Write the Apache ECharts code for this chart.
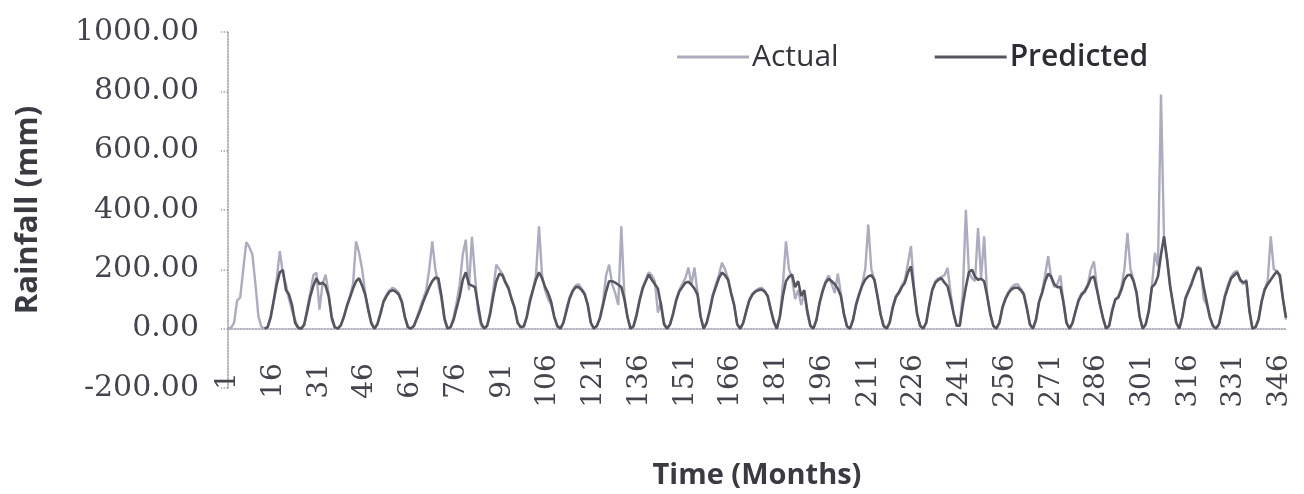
<!DOCTYPE html>
<html>
<head>
<meta charset="utf-8">
<title>Rainfall: actual vs predicted</title>
<script src="https://cdn.jsdelivr.net/npm/echarts@6/dist/echarts.min.js"></script>
<style>
  html, body { margin: 0; padding: 0; background: #ffffff; }
  #chart { width: 1304px; height: 494px; }
</style>
</head>
<body>
<div id="chart"></div>
<script>
// Monthly rainfall (mm), one row per year (Jan..Dec), 29 years = 348 months
const actual = [
  0, 3, 20, 95, 105, 200, 292, 275, 250, 150, 40, 5,
  0, 5, 35, 95, 170, 261, 185, 150, 100, 60, 30, 5,
  0, 10, 70, 120, 180, 189, 64, 150, 182, 120, 30, 5,
  0, 10, 40, 80, 110, 150, 294, 256, 200, 120, 60, 15,
  0, 15, 55, 95, 115, 130, 138, 132, 120, 95, 40, 5,
  0, 10, 40, 70, 100, 130, 200, 294, 200, 150, 100, 30,
  0, 5, 40, 90, 150, 250, 300, 130, 310, 180, 60, 10,
  0, 10, 60, 130, 216, 200, 185, 160, 140, 100, 70, 20,
  5, 5, 40, 100, 130, 180, 345, 180, 130, 100, 80, 40,
  5, 0, 20, 65, 105, 130, 145, 150, 135, 120, 80, 20,
  0, 10, 40, 90, 180, 216, 150, 120, 80, 345, 110, 40,
  0, 10, 50, 100, 140, 165, 190, 180, 160, 54, 90, 20,
  0, 15, 55, 100, 130, 150, 170, 206, 150, 206, 120, 40,
  0, 20, 65, 115, 150, 180, 222, 200, 170, 120, 80, 15,
  0, 20, 60, 100, 118, 128, 135, 138, 128, 110, 65, 20,
  0, 40, 150, 294, 200, 170, 100, 130, 80, 120, 50, 10,
  0, 30, 90, 130, 160, 180, 150, 120, 185, 120, 50, 8,
  0, 30, 85, 120, 150, 200, 351, 200, 165, 110, 50, 10,
  0, 20, 75, 110, 125, 145, 165, 220, 278, 140, 50, 10,
  0, 20, 80, 135, 160, 170, 175, 180, 205, 120, 50, 10,
  10, 120, 401, 190, 170, 160, 340, 170, 311, 110, 50, 10,
  0, 20, 75, 105, 125, 140, 148, 150, 135, 120, 70, 15,
  0, 30, 90, 125, 180, 244, 170, 140, 150, 180, 90, 20,
  0, 20, 60, 100, 120, 130, 150, 200, 227, 140, 80, 35,
  0, 10, 65, 100, 110, 140, 200, 323, 200, 165, 120, 40,
  0, 15, 60, 140, 256, 210, 789, 300, 233, 143, 80, 20,
  0, 40, 105, 130, 155, 185, 209, 205, 100, 80, 40, 10,
  0, 15, 65, 115, 150, 175, 190, 195, 160, 150, 165, 60,
  0, 5, 35, 95, 135, 160, 311, 200, 195, 170, 100, 30
];

// Model output; the first year has no prediction
const predicted = [
  null, null, null, null, null, null, null, null, null, null, null, null,
  0, 5, 40, 95, 150, 190, 198, 130, 115, 80, 20, 3,
  0, 15, 60, 110, 145, 170, 150, 155, 145, 110, 40, 5,
  0, 12, 40, 75, 105, 135, 160, 170, 145, 115, 65, 20,
  0, 15, 50, 90, 110, 125, 130, 125, 115, 90, 40, 5,
  0, 10, 35, 60, 90, 115, 140, 160, 172, 170, 110, 35,
  0, 5, 30, 70, 110, 165, 190, 150, 145, 140, 80, 20,
  0, 10, 50, 110, 160, 185, 180, 155, 135, 100, 70, 20,
  5, 8, 40, 90, 130, 165, 190, 170, 140, 120, 90, 40,
  10, 0, 20, 60, 100, 125, 140, 140, 130, 115, 80, 20,
  0, 10, 35, 80, 125, 160, 160, 155, 148, 140, 100, 40,
  0, 8, 45, 95, 135, 160, 182, 165, 150, 135, 80, 15,
  0, 15, 50, 95, 125, 140, 155, 158, 148, 135, 115, 40,
  0, 20, 60, 110, 140, 170, 189, 180, 165, 120, 80, 15,
  0, 20, 60, 95, 115, 125, 130, 132, 125, 110, 65, 25,
  0, 40, 110, 160, 175, 182, 140, 160, 110, 130, 60, 10,
  0, 30, 85, 125, 155, 168, 160, 150, 135, 110, 50, 8,
  0, 30, 80, 115, 145, 165, 176, 180, 165, 110, 50, 10,
  0, 20, 70, 105, 120, 140, 155, 190, 210, 130, 50, 10,
  0, 20, 80, 130, 155, 165, 170, 155, 143, 100, 50, 10,
  10, 80, 140, 190, 199, 175, 165, 168, 160, 110, 50, 10,
  0, 20, 70, 100, 120, 133, 138, 138, 130, 115, 70, 15,
  0, 30, 90, 120, 160, 185, 175, 150, 140, 140, 90, 20,
  0, 20, 60, 95, 115, 125, 145, 170, 176, 130, 80, 35,
  0, 10, 60, 98, 105, 130, 165, 180, 182, 160, 120, 40,
  0, 15, 60, 140, 150, 176, 250, 311, 233, 143, 80, 20,
  0, 40, 100, 125, 150, 180, 205, 200, 140, 90, 40, 10,
  0, 15, 60, 109, 140, 170, 180, 189, 165, 155, 160, 60,
  0, 5, 30, 90, 131, 150, 165, 180, 193, 180, 100, 37
];

// Month numbers used as categories (1 .. 348)
const months = actual.map((_, i) => String(i + 1));

const seriesNames = ['Actual', 'Predicted'];
const yTicks = { min: -200, max: 1000, step: 200 };

const actualColor = '#acacbf';
const predictedColor = '#55555f';
const axisGray = '#9c9cab';
const serifFont = '"DejaVu Serif", "Liberation Serif", serif';
const sansFont = '"Open Sans", "Noto Sans", sans-serif';

const chart = echarts.init(document.getElementById('chart'), null, { renderer: 'canvas' });

chart.setOption({
  backgroundColor: '#ffffff',
  animation: false,
  grid: { left: 228, right: 18, top: 32, bottom: 106, outerBoundsMode: 'none', containLabel: false },
  legend: {
    data: seriesNames,
    left: 672,
    top: 36,
    icon: 'rect',
    itemWidth: 72,
    itemHeight: 3,
    itemGap: 96,
    textStyle: {
      fontFamily: sansFont,
      fontSize: 30,
      lineHeight: 32,
      padding: [0, 0, 0, -2],
      rich: {
        a: { fontFamily: sansFont, fontSize: 30, color: '#34343c', fontWeight: 'normal' },
        p: { fontFamily: sansFont, fontSize: 30, color: '#2c2c34', fontWeight: 600 }
      }
    },
    formatter: (name) => (name === 'Predicted' ? '{p|' + name + '}' : '{a|' + name + '}')
  },
  xAxis: {
    type: 'category',
    data: months,
    boundaryGap: false,
    name: 'Time (Months)',
    nameLocation: 'middle',
    nameGap: 73,
    nameTextStyle: {
      fontFamily: sansFont,
      fontSize: 29,
      fontWeight: 'bold',
      color: '#3a3a42'
    },
    axisLine: {
      onZero: true,
      lineStyle: { color: axisGray, width: 1.5, type: 'dotted' }
    },
    axisTick: { show: false },
    axisLabel: {
      interval: 14,
      rotate: 90,
      align: 'center',
      verticalAlign: 'middle',
      margin: -7,
      fontFamily: serifFont,
      fontSize: 28,
      color: '#44444e'
    },
    splitLine: { show: false }
  },
  yAxis: {
    type: 'value',
    min: yTicks.min,
    max: yTicks.max,
    interval: yTicks.step,
    name: 'Rainfall (mm)',
    nameLocation: 'middle',
    nameGap: 184,
    nameTextStyle: {
      fontFamily: sansFont,
      fontSize: 31,
      fontWeight: 'bold',
      color: '#3a3a42'
    },
    axisLine: {
      show: true,
      lineStyle: { color: axisGray, width: 1.5, type: 'dotted' }
    },
    axisTick: {
      show: true,
      length: 7,
      lineStyle: { color: axisGray, width: 1.5, type: 'dotted' }
    },
    axisLabel: {
      margin: 29,
      fontFamily: serifFont,
      fontSize: 30,
      color: '#44444e',
      formatter: (v) => v.toFixed(2)
    },
    splitLine: { show: false }
  },
  series: [
    {
      name: 'Actual',
      type: 'line',
      data: actual,
      symbol: 'none',
      lineStyle: { color: actualColor, width: 2.4 },
      itemStyle: { color: actualColor },
      z: 2
    },
    {
      name: 'Predicted',
      type: 'line',
      data: predicted,
      symbol: 'none',
      connectNulls: false,
      lineStyle: { color: predictedColor, width: 2.6 },
      itemStyle: { color: predictedColor },
      z: 3
    }
  ]
});
</script>
</body>
</html>
